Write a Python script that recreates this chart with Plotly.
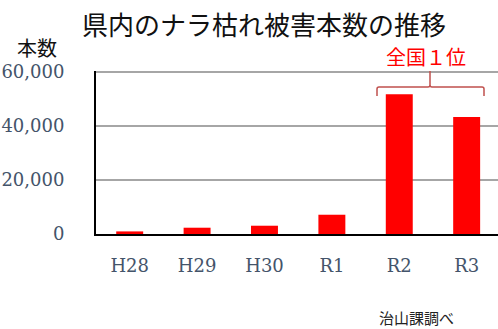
import plotly.graph_objects as go

# Yearly number of oak-wilt damaged trees in the prefecture
years = ["H28", "H29", "H30", "R1", "R2", "R3"]
damaged_trees = [960, 2330, 3070, 7140, 51800, 43400]
y_ticks = [0, 20000, 40000, 60000]
y_tick_labels = ["0", "20,000", "40,000", "60,000"]

W, H = 498, 329
L, R, T, B = 96, 498, 71, 234.5  # plot area edges in pixels
Y_MAX = 60400  # a little headroom above the top tick
GRID = "#a6a6a6"


def px(x, y):
    """Pixel position -> paper coordinates."""
    return (x - L) / (R - L), (B - y) / (B - T)


fig = go.Figure(
    go.Bar(
        x=years,
        y=damaged_trees,
        marker=dict(color="#ff0000", line=dict(width=0)),
        width=0.4,
    )
)

tick_font = dict(family="DejaVu Serif", size=18, color="#44546a")
jp = "Noto Sans CJK JP"

# bracket over the R2 / R3 bars, with rounded corners
a = [px(*q) for q in [(377, 96), (377, 89), (379, 87), (428, 87), (430, 85), (430, 71)]]
b = [px(*q) for q in [(430, 85), (432, 87), (482, 87), (484, 89), (484, 96)]]
c1, c2, c3 = px(377, 87), px(430, 87), px(484, 87)
path = (
    f"M {a[0][0]},{a[0][1]} L {a[1][0]},{a[1][1]} Q {c1[0]},{c1[1]} {a[2][0]},{a[2][1]} "
    f"L {a[3][0]},{a[3][1]} Q {c2[0]},{c2[1]} {a[4][0]},{a[4][1]} L {a[5][0]},{a[5][1]} "
    f"M {b[0][0]},{b[0][1]} Q {c2[0]},{c2[1]} {b[1][0]},{b[1][1]} "
    f"L {b[2][0]},{b[2][1]} Q {c3[0]},{c3[1]} {b[3][0]},{b[3][1]} L {b[4][0]},{b[4][1]}"
)

fig.update_layout(
    width=W,
    height=H,
    margin=dict(l=L, r=W - R, t=T, b=H - B),
    paper_bgcolor="white",
    plot_bgcolor="white",
    showlegend=False,
    title=dict(
        text="県内のナラ枯れ被害本数の推移",
        font=dict(family=jp, size=26, color="#111111"),
        x=264 / W,
        xanchor="center",
        y=1 - 26 / H,
        yanchor="middle",
    ),
    xaxis=dict(
        range=[-0.5, 5.465],
        showline=True,
        linecolor="black",
        linewidth=2,
        showgrid=False,
        ticks="",
        tickfont=tick_font,
        ticklabelstandoff=14,
    ),
    yaxis=dict(
        range=[0, Y_MAX],
        tickvals=y_ticks,
        ticktext=y_tick_labels,
        showline=True,
        linecolor="black",
        linewidth=2,
        showgrid=True,
        gridcolor=GRID,
        gridwidth=1.6,
        zeroline=False,
        ticks="",
        tickfont=tick_font,
        ticklabelstandoff=26,
    ),
    shapes=[
        # top gridline at the highest tick
        dict(
            type="line",
            xref="paper", yref="y",
            x0=0, x1=1, y0=y_ticks[-1], y1=y_ticks[-1],
            line=dict(color=GRID, width=1.8),
            layer="above",
        ),
        dict(
            type="path",
            xref="paper",
            yref="paper",
            path=path,
            line=dict(color="#c0504d", width=1.5),
        ),
    ],
    annotations=[
        dict(
            text="本数",
            xref="paper", yref="paper",
            x=px(37, 47)[0], y=px(37, 47)[1],
            xanchor="center", yanchor="middle",
            showarrow=False,
            font=dict(family=jp, size=20, color="#111111"),
        ),
        dict(
            text="全国１位",
            xref="paper", yref="paper",
            x=px(426, 56)[0], y=px(426, 56)[1],
            xanchor="center", yanchor="middle",
            showarrow=False,
            font=dict(family=jp, size=20, color="#ff0000"),
        ),
        dict(
            text="治山課調べ",
            xref="paper", yref="paper",
            x=px(416, 318)[0], y=px(416, 318)[1],
            xanchor="center", yanchor="middle",
            showarrow=False,
            font=dict(family=jp, size=15, color="#222222"),
        ),
    ],
)

fig.write_html("out.html")
